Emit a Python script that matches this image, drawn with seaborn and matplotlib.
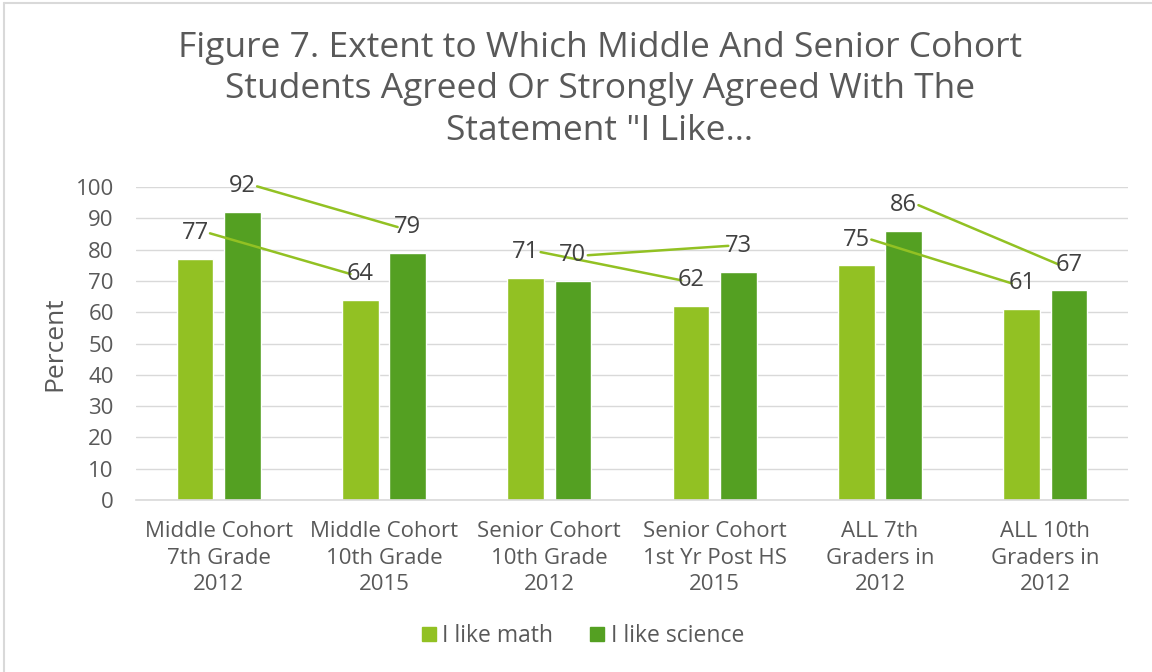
import pandas as pd
import seaborn as sns
import matplotlib.pyplot as plt
from matplotlib.lines import Line2D

# data
categories = ['Middle Cohort\n7th Grade\n2012', 'Middle Cohort\n10th Grade\n2015',
              'Senior Cohort\n10th Grade\n2012', 'Senior Cohort\n1st Yr Post HS\n2015',
              'ALL 7th\nGraders in\n2012', 'ALL 10th\nGraders in\n2012']
math = [77, 64, 71, 62, 75, 61]
science = [92, 79, 70, 73, 86, 67]
series = ['I like math', 'I like science']
colors = ['#92C123', '#54A022']
yticks = [0, 10, 20, 30, 40, 50, 60, 70, 80, 90, 100]

df = pd.DataFrame({
    'category': categories * 2,
    'series': [series[0]] * len(categories) + [series[1]] * len(categories),
    'value': math + science,
})

sns.set_theme(style='white')
plt.rcParams['font.family'] = ['Open Sans', 'DejaVu Sans']
text_col = '#595959'

fig = plt.figure(figsize=(11.52, 6.72), dpi=100)
ax = fig.add_axes([136 / 1152, 1 - 500 / 672, 992 / 1152, 313 / 672])

sns.barplot(data=df, x='category', y='value', hue='series', palette=colors,
            width=0.57, gap=0.22, ax=ax, legend=False, saturation=1)

ax.set_ylim(0, 100)
ax.set_yticks(yticks)
ax.set_xlim(-0.5, len(categories) - 0.5)
ax.yaxis.grid(True, color='#d9d9d9', linewidth=1)
ax.set_axisbelow(True)
for s in ['top', 'right', 'left']:
    ax.spines[s].set_visible(False)
ax.spines['bottom'].set_color('#d9d9d9')
ax.spines['bottom'].set_linewidth(1.2)
ax.tick_params(axis='both', length=0, labelsize=16, colors=text_col)
ax.tick_params(axis='x', pad=15)
ax.tick_params(axis='y', pad=16)
for lbl in ax.get_xticklabels():
    lbl.set_linespacing(1.36)
ax.set_xlabel('')
ax.set_ylabel('Percent', fontsize=19, color=text_col, labelpad=6)

# displaced data labels with leader lines between paired categories
for cont in ax.containers:
    pts = []
    for bar in cont:
        x = bar.get_x() + bar.get_width() / 2
        y = bar.get_height() + 8.2
        ax.text(x, y, f'{bar.get_height():.0f}', ha='center', va='center',
                fontsize=17, color='#404040', zorder=4)
        pts.append((x, y))
    for i in range(0, len(pts), 2):
        (x0, y0), (x1, y1) = pts[i], pts[i + 1]
        ax.plot([x0 + 0.09, x1 - 0.06], [y0, y1], color='#92C123', lw=1.8,
                zorder=3, clip_on=False)

fig.suptitle('Figure 7. Extent to Which Middle And Senior Cohort\n'
             'Students Agreed Or Strongly Agreed With The\n'
             'Statement "I Like\u2026', x=600 / 1152, y=1 - 31 / 672, va='top',
             fontsize=25.5, color=text_col, linespacing=1.28)

handles = [plt.Rectangle((0, 0), 1, 1, color=c) for c in colors]
fig.legend(handles, series, loc='center', ncol=2, frameon=False,
           bbox_to_anchor=(583 / 1152, 1 - 636 / 672), fontsize=16.5,
           labelcolor=text_col, handlelength=0.6, handleheight=0.6,
           handletextpad=0.3, columnspacing=1.6)

# chart area border
fig.add_artist(Line2D([4 / 1152, 4 / 1152], [0, 1 - 3 / 672], color='#d9d9d9', lw=1.5))
fig.add_artist(Line2D([4 / 1152, 1], [1 - 3 / 672, 1 - 3 / 672], color='#d9d9d9', lw=1.5))

fig.savefig('out.png', dpi=100)
